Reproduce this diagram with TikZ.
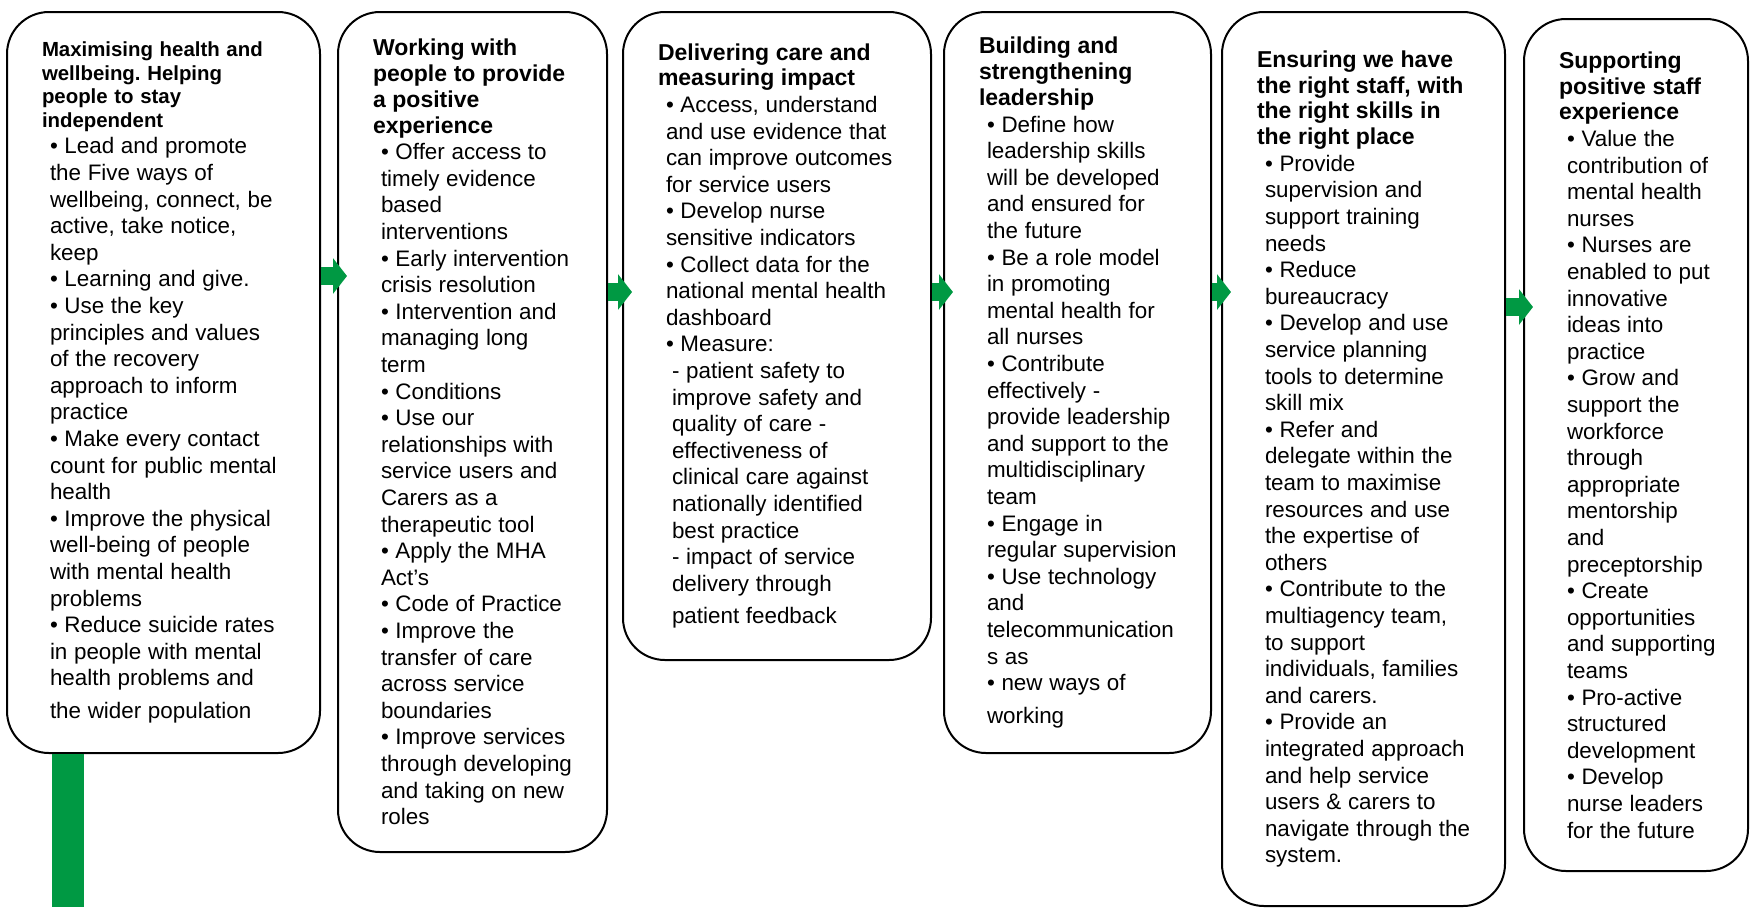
\documentclass[tikz,border=0pt]{standalone}
\usepackage{fontspec}
\setmainfont{Liberation Sans}
\usetikzlibrary{arrows.meta}
\frenchspacing

\definecolor{nhsgreen}{HTML}{009943}

% heading and bullet text inside a card
\newcommand{\cardhead}[2][]{{\leftskip=4.5pt\fontsize{11.5}{12.9}\bfseries\selectfont#1#2\par}}
\newcommand{\cardbody}[1]{{\leftskip=8.5pt\fontsize{11.2}{13.3}\selectfont#1\par}}

\tikzset{
  card/.style={rectangle, rounded corners=21pt, draw=black, line width=1pt, fill=white,
    anchor=north west, inner xsep=13pt, inner ysep=0pt, align=left},
  cardsize/.style 2 args={minimum width=#1pt, minimum height=#2pt, text width=#1pt-26pt},
  flow/.style={draw=nhsgreen, line width=9pt, -{Triangle[length=7pt,width=17.5pt]}, shorten >=-5pt},
  stem/.style={draw=nhsgreen, line width=16pt},
}

\begin{document}
\begin{tikzpicture}[x=0.5pt, y=-0.5pt]
  \useasboundingbox (0,0) rectangle (1752,907);

  \node[card, cardsize={156.5}{370.5}] (b1) at (6,11) {%
    \cardhead[\fontsize{10.2}{11.75}\selectfont]{Maximising health and\\wellbeing. Helping\\people to stay\\independent}%
    \cardbody{\textbullet\ Lead and promote\\
      the Five ways of\\
      wellbeing, connect, be\\
      active, take notice,\\
      keep\\
      \textbullet\ Learning and give.\\
      \textbullet\ Use the key\\
      principles and values\\
      of the recovery\\
      approach to inform\\
      practice\\
      \textbullet\ Make every contact\\
      count for public mental\\
      health\\
      \textbullet\ Improve the physical\\
      well-being of people\\
      with mental health\\
      problems\\
      \textbullet\ Reduce suicide rates\\
      in people with mental\\
      health problems and\\[3pt]
      the wider population}};

  \node[card, cardsize={134.5}{420}] (b2) at (337,11) {%
    \cardhead{Working with\\people to provide\\a positive\\experience}%
    \cardbody{\textbullet\ Offer access to\\
      timely evidence\\
      based\\
      interventions\\
      \textbullet\ Early intervention\\
      crisis resolution\\
      \textbullet\ Intervention and\\
      managing long\\
      term\\
      \textbullet\ Conditions\\
      \textbullet\ Use our\\
      relationships with\\
      service users and\\
      Carers as a\\
      therapeutic tool\\
      \textbullet\ Apply the MHA\\
      Act’s\\
      \textbullet\ Code of Practice\\
      \textbullet\ Improve the\\
      transfer of care\\
      across service\\
      boundaries\\
      \textbullet\ Improve services\\
      through developing\\
      and taking on new\\
      roles}};

  \node[card, cardsize={154}{324}] (b3) at (622,11) {%
    \cardhead{Delivering care and\\measuring impact}%
    \cardbody{\textbullet\ Access, understand\\
      and use evidence that\\
      can improve outcomes\\
      for service users\\
      \textbullet\ Develop nurse\\
      sensitive indicators\\
      \textbullet\ Collect data for the\\
      national mental health\\
      dashboard\\
      \textbullet\ Measure:\par
      {\leftskip=11.5pt - patient safety to\\
        improve safety and\\
        quality of care -\\
        effectiveness of\\
        clinical care against\\
        nationally identified\\
        best practice\\
        - impact of service\\
        delivery through\\[3pt]
        patient feedback\par}}};

  \node[card, cardsize={133.5}{370.5}] (b4) at (943,11) {%
    \cardhead{Building and\\strengthening\\leadership}%
    \cardbody{\textbullet\ Define how\\
      leadership skills\\
      will be developed\\
      and ensured for\\
      the future\\
      \textbullet\ Be a role model\\
      in promoting\\
      mental health for\\
      all nurses\\
      \textbullet\ Contribute\\
      effectively -\\
      provide leadership\\
      and support to the\\
      multidisciplinary\\
      team\\
      \textbullet\ Engage in\\
      regular supervision\\
      \textbullet\ Use technology\\
      and\\
      telecommunication\\
      s as\\
      \textbullet\ new ways of\\[3pt]
      working}};

  \node[card, cardsize={141.5}{447}] (b5) at (1221,11) {%
    \cardhead{Ensuring we have\\the right staff, with\\the right skills in\\the right place}%
    \cardbody{\textbullet\ Provide\\
      supervision and\\
      support training\\
      needs\\
      \textbullet\ Reduce\\
      bureaucracy\\
      \textbullet\ Develop and use\\
      service planning\\
      tools to determine\\
      skill mix\\
      \textbullet\ Refer and\\
      delegate within the\\
      team to maximise\\
      resources and use\\
      the expertise of\\
      others\\
      \textbullet\ Contribute to the\\
      multiagency team,\\
      to support\\
      individuals, families\\
      and carers.\\
      \textbullet\ Provide an\\
      integrated approach\\
      and help service\\
      users \& carers to\\
      navigate through the\\
      system.}};

  \node[card, cardsize={112}{426}] (b6) at (1523,18) {%
    \cardhead{Supporting\\positive staff\\experience}%
    \cardbody{\textbullet\ Value the\\
      contribution of\\
      mental health\\
      nurses\\
      \textbullet\ Nurses are\\
      enabled to put\\
      innovative\\
      ideas into\\
      practice\\
      \textbullet\ Grow and\\
      support the\\
      workforce\\
      through\\
      appropriate\\
      mentorship\\
      and\\
      preceptorship\\
      \textbullet\ Create\\
      opportunities\\
      and supporting\\
      teams\\
      \textbullet\ Pro-active\\
      structured\\
      development\\
      \textbullet\ Develop\\
      nurse leaders\\
      for the future}};

  % green arrows between the cards
  \draw[flow] (b1.east |- 0,276) -- (b2.west |- 0,276);
  \draw[flow] (b2.east |- 0,292) -- (b3.west |- 0,292);
  \draw[flow] (b3.east |- 0,292) -- (b4.west |- 0,292);
  \draw[flow] (b4.east |- 0,292) -- (b5.west |- 0,292);
  \draw[flow] (b5.east |- 0,307) -- (b6.west |- 0,307);

  % bar running down from the first card
  \coordinate (stemfoot) at (68,907);
  \draw[stem] (b1.south -| stemfoot) -- (stemfoot);
\end{tikzpicture}
\end{document}
